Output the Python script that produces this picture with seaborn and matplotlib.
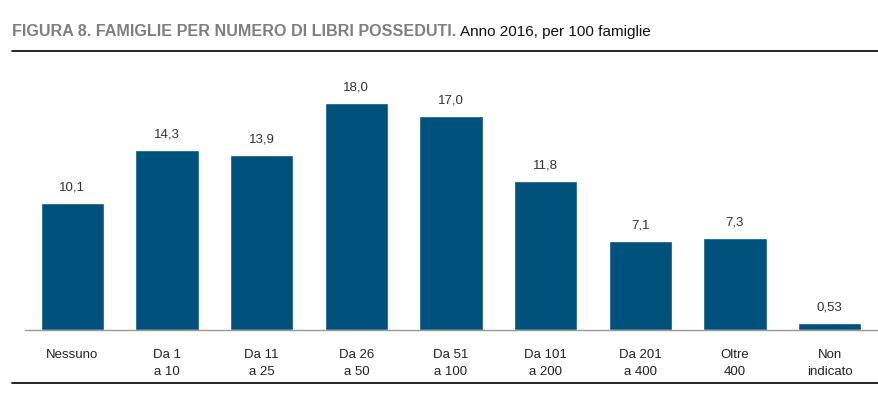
import pandas as pd
import seaborn as sns
import matplotlib
import matplotlib.pyplot as plt
from matplotlib.lines import Line2D
from matplotlib import font_manager

# data
categorie = ['Nessuno', 'Da 1\na 10', 'Da 11\na 25', 'Da 26\na 50', 'Da 51\na 100',
             'Da 101\na 200', 'Da 201\na 400', 'Oltre\n400', 'Non\nindicato']
valori = [10.1, 14.3, 13.9, 18.0, 17.0, 11.8, 7.1, 7.3, 0.53]
etichette = ['10,1', '14,3', '13,9', '18,0', '17,0', '11,8', '7,1', '7,3', '0,53']

sns.set_theme(style='white')
nomi = {f.name for f in font_manager.fontManager.ttflist}
font = 'Liberation Sans Narrow' if 'Liberation Sans Narrow' in nomi else 'Liberation Sans'
plt.rcParams['font.family'] = [font, 'DejaVu Sans']

df = pd.DataFrame({'cat': categorie, 'val': valori})

W, H = 879, 395
fig = plt.figure(figsize=(W / 100, H / 100), dpi=100)
ax = fig.add_axes([25 / W, 65 / H, 852 / W, 270 / H])

sns.barplot(data=df, x='cat', y='val', color='#00527c', width=0.67,
            saturation=1, ax=ax)

for i, (v, t) in enumerate(zip(valori, etichette)):
    ax.text(i, v + 0.75, t, ha='center', va='bottom', fontsize=9.5, color='#333333')

ax.set_xlim(-0.5, len(categorie) - 0.5)
ax.set_ylim(0, 270 / 12.6)
ax.set_xlabel('')
ax.set_ylabel('')
ax.set_yticks([])
ax.tick_params(axis='x', length=0, pad=14, labelsize=9.5, labelcolor='#222222')
for lab in ax.get_xticklabels():
    lab.set_linespacing(1.5)
for s in ['top', 'right', 'left']:
    ax.spines[s].set_visible(False)
ax.spines['bottom'].set_color('#999999')
ax.spines['bottom'].set_linewidth(1)

# title
t1 = fig.text(12 / W, 1 - 32 / H, 'FIGURA 8. FAMIGLIE PER NUMERO DI LIBRI POSSEDUTI.',
              fontsize=11.6, fontweight='bold', color='#7f7f7f', va='center', ha='left')
fig.canvas.draw()
bb = t1.get_window_extent()
fig.text(bb.x1 / W + 4 / W, 1 - 32 / H, 'Anno 2016, per 100 famiglie',
         fontsize=11, color='#111111', va='center', ha='left')

fig.add_artist(Line2D([12 / W, 1], [1 - 51 / H, 1 - 51 / H], color='black', lw=1.2))
fig.add_artist(Line2D([12 / W, 1], [1 - 383 / H, 1 - 383 / H], color='black', lw=1.2))

fig.savefig('out.png', dpi=100)
